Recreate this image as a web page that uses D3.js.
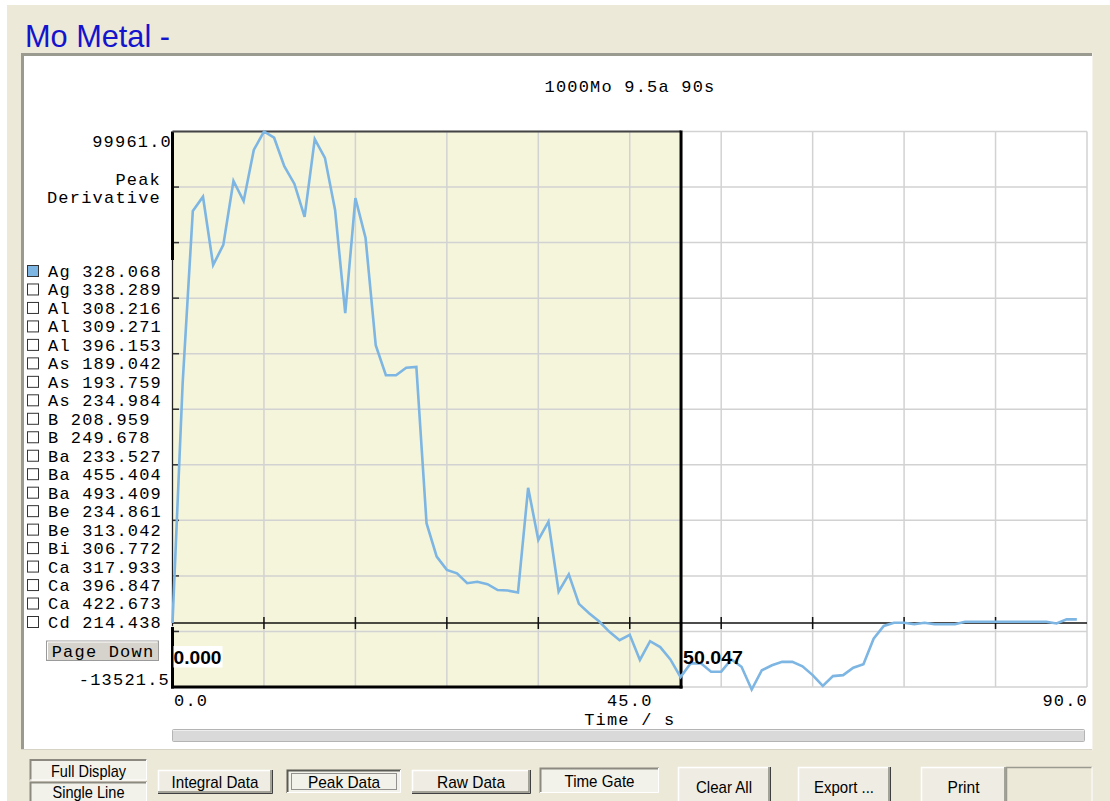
<!DOCTYPE html>
<html>
<head>
<meta charset="utf-8">
<script src="https://cdn.jsdelivr.net/npm/d3@7/dist/d3.min.js"></script>
<style>
  html, body { margin: 0; padding: 0; background: #ffffff; }
  svg { display: block; }
</style>
</head>
<body>
<svg id="chart" width="1110" height="801"></svg>
<script>
// ---------------- DATA ----------------
const pageTitle = "Mo Metal -";
const chartTitle = "1000Mo 9.5a 90s";
const yAxisName = ["Peak", "Derivative"];
const xAxisName = "Time / s";
const yMax = 99961.0;
const yMin = -13521.5;
const yMaxLabel = "99961.0";
const yMinLabel = "-13521.5";
const xDomain = [0, 90];
const xTickValues = [0, 45, 90];
const xTickLabels = ["0.0", "45.0", "90.0"];
const gateStart = 0.000;
const gateEnd = 50.047;
const gateLabels = ["0.000", "50.047"];

const legendItems = ["Ag 328.068","Ag 338.289","Al 308.216","Al 309.271","Al 396.153",
  "As 189.042","As 193.759","As 234.984","B 208.959","B 249.678","Ba 233.527",
  "Ba 455.404","Ba 493.409","Be 234.861","Be 313.042","Bi 306.772","Ca 317.933",
  "Ca 396.847","Ca 422.673","Cd 214.438"];
const legendChecked = ["Ag 328.068"];

const times = [0,1,2,3,4,5,6,7,8,9,10,11,12,13,14,15,16,17,18,19,
  20,21,22,23,24,25,26,27,28,29,30,31,32,33,34,35,36,37,38,39,
  40,41,42,43,44,45,46,47,48,49,50,51,52,53,54,55,56,57,58,59,
  60,61,62,63,64,65,66,67,68,69,70,71,72,73,74,75,76,77,78,79,
  80,81,82,83,84,85,86,87,88,89];
const agValues = [0,48800,83800,86700,72800,76900,89900,85800,96200,99961,
  98700,92900,89300,82600,98400,94600,84000,63000,86400,78300,
  56500,50400,50400,51900,52100,20300,13500,10800,10100,8100,
  8400,7900,6700,6600,6200,27500,16900,20600,6400,9900,
  3900,2000,300,-1800,-3500,-2400,-7500,-3700,-4900,-7400,
  -11000,-8200,-8200,-9900,-9900,-7400,-8900,-13521.5,-9600,-8600,
  -7900,-7900,-8800,-10600,-12800,-10800,-10600,-9100,-8400,-3200,
  -600,60,60,-260,60,-260,-260,-260,260,260,
  260,260,260,260,260,260,260,-100,750,750];

const bottomButtons = [
  {label:"Full Display", style:"pressed", textW: 75},
  {label:"Single Line", style:"pressed", textW: 72},
  {label:"Integral Data", style:"raised", textW: 87},
  {label:"Peak Data", style:"focus", textW: 72},
  {label:"Raw Data", style:"raised", textW: 68},
  {label:"Time Gate", style:"pressed", textW: 70},
  {label:"Clear All", style:"tall", textW: 56},
  {label:"Export ...", style:"tall", textW: 60},
  {label:"Print", style:"tall", textW: 32}
];

// ---------------- LAYOUT ----------------
const W = 1110, H = 801;
const plot = {left: 172.5, right: 1087, top: 131.5, bottom: 687};
const MONO = "'Liberation Mono', 'Courier New', monospace";
const SANS = "'Liberation Sans', Arial, sans-serif";
const lineColor = "#7db5e3";

const svg = d3.select("#chart");

const x = d3.scaleLinear().domain(xDomain).range([plot.left, plot.right]);
const y = d3.scaleLinear().domain([yMin, yMax]).range([689.5, plot.top]);

// background
svg.append("rect").attr("x", 0).attr("y", 0).attr("width", W).attr("height", H).attr("fill", "#ffffff");
svg.append("rect").attr("x", 7).attr("y", 5).attr("width", W - 7).attr("height", H - 5).attr("fill", "#ece9d8");

// page title
svg.append("text").attr("x", 25).attr("y", 47).attr("font-family", SANS).attr("font-size", 30.5)
  .attr("fill", "#1414cc").attr("textLength", 145).attr("lengthAdjust", "spacingAndGlyphs").text(pageTitle);

// panel
svg.append("rect").attr("x", 21).attr("y", 53).attr("width", 1072).attr("height", 696).attr("fill", "#ffffff");
svg.append("line").attr("x1", 21).attr("x2", 1092).attr("y1", 54.5).attr("y2", 54.5).attr("stroke", "#9b9a90").attr("stroke-width", 3);
svg.append("line").attr("x1", 22.5).attr("x2", 22.5).attr("y1", 53).attr("y2", 749).attr("stroke", "#9b9a90").attr("stroke-width", 3);
svg.append("line").attr("x1", 21).attr("x2", 1093).attr("y1", 749.5).attr("y2", 749.5).attr("stroke", "#d6d3c6").attr("stroke-width", 1);
svg.append("line").attr("x1", 1092.5).attr("x2", 1092.5).attr("y1", 53).attr("y2", 750).attr("stroke", "#f4f2ea").attr("stroke-width", 1);

// chart title
const mono = (sel, size) => sel.attr("font-family", MONO).attr("font-size", size).attr("letter-spacing", 1.2).attr("fill", "#000");
mono(svg.append("text").attr("x", 630).attr("y", 86).attr("dy", "0.35em").attr("text-anchor", "middle"), 17).text(chartTitle);

// gate fill
svg.append("rect").attr("x", x(gateStart)).attr("y", plot.top)
  .attr("width", x(gateEnd) - x(gateStart)).attr("height", plot.bottom - plot.top)
  .attr("fill", "#f5f5dc");

// grid
const gridY = d3.scaleLinear().domain([0, 10]).range([plot.top, plot.bottom]);
const gridIdx = [0,1,2,3,4,5,6,7,8,9,10];
const vGridTimes = [0,9,18,27,36,45,54,63,72,81,90];
svg.append("g").selectAll("line").data(vGridTimes).join("line")
  .attr("x1", d => x(d)).attr("x2", d => x(d)).attr("y1", plot.top).attr("y2", plot.bottom)
  .attr("stroke", "#d2d2d2").attr("stroke-width", 1.5);
svg.append("g").selectAll("line").data(gridIdx).join("line")
  .attr("x1", plot.left).attr("x2", plot.right).attr("y1", d => gridY(d)).attr("y2", d => gridY(d))
  .attr("stroke", "#d2d2d2").attr("stroke-width", 1.5);

// zero line with ticks
svg.append("line").attr("x1", plot.left).attr("x2", plot.right).attr("y1", y(0)).attr("y2", y(0))
  .attr("stroke", "#111").attr("stroke-width", 1.5);
svg.append("g").selectAll("line").data(vGridTimes.slice(1, 10)).join("line")
  .attr("x1", d => x(d)).attr("x2", d => x(d)).attr("y1", y(0) - 6).attr("y2", y(0) + 6)
  .attr("stroke", "#111").attr("stroke-width", 1.5);

// left axis ticks
svg.append("g").selectAll("line").data(gridIdx.slice(1, 10)).join("line")
  .attr("x1", plot.left).attr("x2", plot.left + 6.5).attr("y1", d => gridY(d)).attr("y2", d => gridY(d))
  .attr("stroke", "#333").attr("stroke-width", 1.5);

// left axis line
svg.append("line").attr("x1", plot.left).attr("x2", plot.left).attr("y1", plot.top).attr("y2", 260)
  .attr("stroke", "#000").attr("stroke-width", 3);
svg.append("line").attr("x1", plot.left).attr("x2", plot.left).attr("y1", 260).attr("y2", 626)
  .attr("stroke", "#222").attr("stroke-width", 1.2);
svg.append("line").attr("x1", plot.left).attr("x2", plot.left).attr("y1", 627).attr("y2", plot.bottom + 1.5)
  .attr("stroke", "#000").attr("stroke-width", 3);

// gate border
svg.append("line").attr("x1", x(gateStart)).attr("x2", x(gateEnd)).attr("y1", plot.top).attr("y2", plot.top)
  .attr("stroke", "#444").attr("stroke-width", 2);
svg.append("line").attr("x1", x(gateEnd)).attr("x2", x(gateEnd)).attr("y1", plot.top - 1).attr("y2", plot.bottom + 1.5)
  .attr("stroke", "#000").attr("stroke-width", 3);
svg.append("line").attr("x1", plot.left - 1.5).attr("x2", x(gateEnd) + 1.5).attr("y1", plot.bottom).attr("y2", plot.bottom)
  .attr("stroke", "#000").attr("stroke-width", 3);

// data line
const line = d3.line().x((d, i) => x(times[i])).y(d => y(d));
svg.append("path").datum(agValues).attr("d", line).attr("fill", "none")
  .attr("stroke", lineColor).attr("stroke-width", 2.6).attr("stroke-linejoin", "miter");

// gate labels
svg.append("rect").attr("x", x(gateStart) + 1).attr("y", 646).attr("width", 49).attr("height", 21.5).attr("fill", "#fff");
svg.append("text").attr("x", x(gateStart) + 1).attr("y", 657).attr("dy", "0.36em")
  .attr("font-family", SANS).attr("font-weight", "bold").attr("font-size", 19).attr("fill", "#000")
  .attr("textLength", 48).attr("lengthAdjust", "spacingAndGlyphs").text(gateLabels[0]);
svg.append("text").attr("x", x(gateEnd) + 2).attr("y", 657).attr("dy", "0.36em")
  .attr("font-family", SANS).attr("font-weight", "bold").attr("font-size", 19).attr("fill", "#000")
  .attr("textLength", 60).attr("lengthAdjust", "spacingAndGlyphs").text(gateLabels[1]);

// y labels
mono(svg.append("text").attr("x", 172).attr("y", 141).attr("dy", "0.35em").attr("text-anchor", "end"), 17).text(yMaxLabel);
mono(svg.append("text").attr("x", 170).attr("y", 679.5).attr("dy", "0.35em").attr("text-anchor", "end"), 17).text(yMinLabel);
yAxisName.forEach((t, i) => {
  mono(svg.append("text").attr("x", 161).attr("y", 179 + i * 18.5).attr("dy", "0.35em").attr("text-anchor", "end"), 17).text(t);
});

// x labels
svg.append("g").selectAll("text").data(xTickValues).join("text")
  .attr("x", (d, i) => i === 0 ? x(d) + 1.5 : (i === 2 ? x(d) + 1 : x(d)))
  .attr("y", 700).attr("dy", "0.35em")
  .attr("text-anchor", (d, i) => i === 0 ? "start" : (i === 2 ? "end" : "middle"))
  .attr("font-family", MONO).attr("font-size", 17).attr("letter-spacing", 1.2).attr("fill", "#000")
  .text((d, i) => xTickLabels[i]);
mono(svg.append("text").attr("x", x(45)).attr("y", 719).attr("dy", "0.35em").attr("text-anchor", "middle"), 17).text(xAxisName);

// legend
const ly = d3.scalePoint().domain(legendItems).range([271, 622]);
const lg = svg.append("g");
lg.selectAll("rect").data(legendItems).join("rect")
  .attr("x", 27.5).attr("y", d => ly(d) - 5.5).attr("width", 11).attr("height", 11)
  .attr("fill", d => legendChecked.includes(d) ? lineColor : "#fff")
  .attr("stroke", "#333").attr("stroke-width", 1);
lg.selectAll("text").data(legendItems).join("text")
  .attr("x", 48).attr("y", d => ly(d)).attr("dy", "0.35em")
  .attr("font-family", MONO).attr("font-size", 17).attr("letter-spacing", 1.2).attr("fill", "#000")
  .text(d => d);

// page down button
svg.append("rect").attr("x", 46.5).attr("y", 641).attr("width", 112).attr("height", 19.5).attr("fill", "#d6d3cc")
  .attr("stroke", "#9a9a9a").attr("stroke-width", 1);
svg.append("path").attr("d", "M47.5,659.5 V642 H157.5").attr("fill", "none").attr("stroke", "#fff").attr("stroke-width", 1);
mono(svg.append("text").attr("x", 103).attr("y", 651).attr("dy", "0.35em").attr("text-anchor", "middle"), 17).text("Page Down");

// scrollbar
svg.append("rect").attr("x", 172.5).attr("y", 729.5).attr("width", 912).attr("height", 12).attr("rx", 1)
  .attr("fill", "#d9d9d9").attr("stroke", "#b4b4b4").attr("stroke-width", 1);
svg.append("line").attr("x1", 173).attr("x2", 1084).attr("y1", 730.5).attr("y2", 730.5).attr("stroke", "#eeeeee");

// bottom buttons
const btnBoxes = [
  [30, 759.5, 117, 21], [30, 782, 117, 22], [158, 770, 114, 23], [287, 770, 114, 23],
  [412, 770, 118, 23], [540, 768, 119, 25], [678, 767, 92, 36], [798, 767, 92, 36], [921, 767, 85, 36]
];
const bg = svg.append("g");
bottomButtons.forEach((b, i) => {
  const [bx, by, bw, bh] = btnBoxes[i];
  const g = bg.append("g");
  if (b.style === "pressed") {
    g.append("rect").attr("x", bx).attr("y", by).attr("width", bw).attr("height", bh).attr("fill", "#f3f2ea");
    g.append("path").attr("d", `M${bx + 0.5},${by + bh} V${by + 0.5} H${bx + bw}`).attr("fill", "none").attr("stroke", "#8c8a80").attr("stroke-width", 2);
    g.append("path").attr("d", `M${bx + bw - 0.5},${by} V${by + bh - 0.5} H${bx}`).attr("fill", "none").attr("stroke", "#ffffff").attr("stroke-width", 1);
  } else if (b.style === "focus") {
    g.append("rect").attr("x", bx).attr("y", by).attr("width", bw).attr("height", bh).attr("fill", "#f3f2ea");
    g.append("path").attr("d", `M${bx + 0.5},${by + bh} V${by + 0.5} H${bx + bw}`).attr("fill", "none").attr("stroke", "#5a5a55").attr("stroke-width", 2);
    g.append("path").attr("d", `M${bx + bw - 0.5},${by} V${by + bh - 0.5} H${bx}`).attr("fill", "none").attr("stroke", "#ffffff").attr("stroke-width", 1);
    g.append("rect").attr("x", bx + 4.5).attr("y", by + 3.5).attr("width", bw - 9).attr("height", bh - 7)
      .attr("fill", "none").attr("stroke", "#333").attr("stroke-width", 1).attr("stroke-dasharray", "1,1");
  } else {
    g.append("rect").attr("x", bx).attr("y", by).attr("width", bw).attr("height", bh).attr("fill", "#efede3");
    g.append("path").attr("d", `M${bx + 0.5},${by + bh} V${by + 0.5} H${bx + bw}`).attr("fill", "none").attr("stroke", "#ffffff").attr("stroke-width", 1.5);
    g.append("path").attr("d", `M${bx + bw - 1},${by} V${by + bh - 1} H${bx}`).attr("fill", "none").attr("stroke", "#8c8a80").attr("stroke-width", 1.5);
    g.append("path").attr("d", `M${bx + bw + 0.5},${by} V${by + bh + 0.5} H${bx}`).attr("fill", "none").attr("stroke", "#404040").attr("stroke-width", 1);
  }
  const ty = b.style === "tall" ? by + 20 : by + bh / 2 + 0.5;
  const fy = i === 1 ? ty - 2 : ty;
  g.append("text").attr("x", bx + bw / 2 - b.textW / 2).attr("y", fy).attr("dy", "0.36em")
    .attr("font-family", SANS).attr("font-size", 17).attr("fill", "#000")
    .attr("textLength", b.textW).attr("lengthAdjust", "spacingAndGlyphs").text(b.label);
});
// empty status box next to Print
svg.append("rect").attr("x", 1006).attr("y", 767).attr("width", 86).attr("height", 36).attr("fill", "#ece9d8");
svg.append("path").attr("d", "M1006.5,803 V767.5 H1092").attr("fill", "none").attr("stroke", "#9b9a90").attr("stroke-width", 1.5);
svg.append("path").attr("d", "M1092,767 V803").attr("fill", "none").attr("stroke", "#ffffff").attr("stroke-width", 1);
</script>
</body>
</html>
